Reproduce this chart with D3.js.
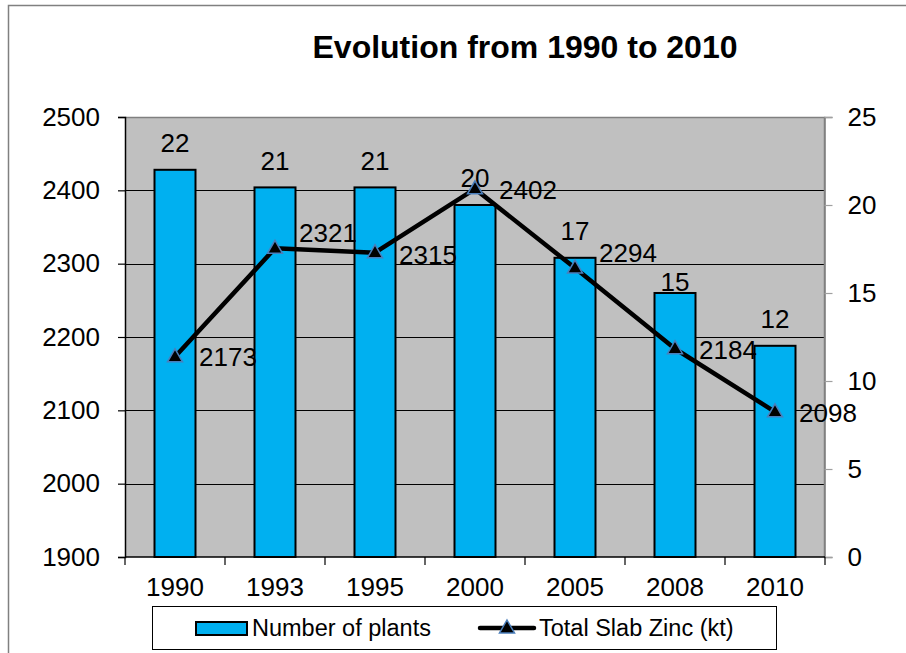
<!DOCTYPE html>
<html>
<head>
<meta charset="utf-8">
<script src="https://cdn.jsdelivr.net/npm/d3@7"></script>
<style>
  html, body { margin: 0; padding: 0; background: #fff; }
  svg { display: block; font-family: Arial, "Liberation Sans", sans-serif; }
</style>
</head>
<body>
<svg id="chart" width="906" height="653"></svg>
<script>
// Zinc industry, 1990-2010
const years = ["1990", "1993", "1995", "2000", "2005", "2008", "2010"];
const plants = [22, 21, 21, 20, 17, 15, 12];                    // Number of plants (right axis)
const slabZinc = [2173, 2321, 2315, 2402, 2294, 2184, 2098];    // Total Slab Zinc, kt (left axis)
const leftTicks = [1900, 2000, 2100, 2200, 2300, 2400, 2500];
const rightTicks = [0, 5, 10, 15, 20, 25];

// vertical nudges for value labels that would otherwise collide
const zincLabelNudge = [0, -15, 2, 1, -15, 1, 1];
const plantLabelNudge = [0, 0, 0, 0, 0, 16, 0];

const FONT = 'Arial, "Liberation Sans", sans-serif';
const svg = d3.select("#chart");
const plot = { left: 125, right: 825, top: 117, bottom: 557 };

// outer chart frame
svg.append("rect")
  .attr("x", 8.5).attr("y", 5.5).attr("width", 1000).attr("height", 1000)
  .attr("fill", "#fff").attr("stroke", "#808080").attr("stroke-width", 1.5);

// title
svg.append("text")
  .attr("x", 525).attr("y", 58)
  .attr("text-anchor", "middle")
  .attr("font-size", 32).attr("font-weight", "bold")
  .text("Evolution from 1990 to 2010");

const x = d3.scaleBand().domain(years).range([plot.left, plot.right]).padding(0);
const yL = d3.scaleLinear().domain([1900, 2500]).range([plot.bottom, plot.top]);
const yR = d3.scaleLinear().domain([0, 25]).range([plot.bottom, plot.top]);

// plot background
svg.append("rect")
  .attr("x", plot.left).attr("y", plot.top)
  .attr("width", plot.right - plot.left).attr("height", plot.bottom - plot.top)
  .attr("fill", "#c0c0c0");

// horizontal gridlines
svg.append("g").selectAll("line")
  .data(leftTicks.filter(t => t > 1900 && t < 2500))
  .join("line")
  .attr("x1", plot.left).attr("x2", plot.right)
  .attr("y1", d => Math.round(yL(d)) + 0.5).attr("y2", d => Math.round(yL(d)) + 0.5)
  .attr("stroke", "#000").attr("stroke-width", 1);

// plot border (top & right)
svg.append("path")
  .attr("d", `M${plot.left},${plot.top + 0.5}H${plot.right - 0.5}V${plot.bottom}`)
  .attr("fill", "none").attr("stroke", "#808080").attr("stroke-width", 1.5);

// bars: number of plants
const barW = x.bandwidth() * 0.41;
const barData = years.map((y, i) => ({ year: y, v: plants[i], i }));
svg.append("g").selectAll("rect")
  .data(barData)
  .join("rect")
  .attr("x", d => x(d.year) + x.bandwidth() / 2 - barW / 2)
  .attr("y", d => yR(d.v))
  .attr("width", barW)
  .attr("height", d => yR(0) - yR(d.v))
  .attr("fill", "#00b0f0").attr("stroke", "#000").attr("stroke-width", 2);

// left axis
const axL = svg.append("g").attr("transform", `translate(${plot.left},0)`)
  .call(d3.axisLeft(yL).tickValues(leftTicks).tickSize(7).tickPadding(18).tickFormat(d3.format("d")));
axL.select(".domain").attr("stroke", "#000").attr("stroke-width", 1.5);
axL.selectAll(".tick line").attr("stroke", "#000").attr("stroke-width", 1.2);
axL.selectAll(".tick text").attr("font-size", 26).attr("fill", "#000").attr("font-family", FONT);

// right axis
const axR = svg.append("g").attr("transform", `translate(${plot.right - 0.5},0)`)
  .call(d3.axisRight(yR).tickValues(rightTicks).tickSize(8).tickPadding(15));
axR.select(".domain").attr("stroke", "#808080").attr("stroke-width", 1.5);
axR.selectAll(".tick line").attr("stroke", "#a0a0a0").attr("stroke-width", 1.2);
axR.selectAll(".tick text").attr("font-size", 26).attr("fill", "#000").attr("font-family", FONT);

// bottom axis: ticks between categories
const axB = svg.append("g").attr("transform", `translate(0,${plot.bottom})`);
axB.append("line")
  .attr("x1", plot.left).attr("x2", plot.right).attr("y1", 0).attr("y2", 0)
  .attr("stroke", "#000").attr("stroke-width", 1.5);
const bounds = years.map(y => x(y)).concat([x(years[years.length - 1]) + x.bandwidth()]);
axB.selectAll("line.tk").data(bounds).join("line").attr("class", "tk")
  .attr("x1", d => d).attr("x2", d => d).attr("y1", 0).attr("y2", 8)
  .attr("stroke", "#000").attr("stroke-width", 1.2);
axB.selectAll("text").data(years).join("text")
  .attr("x", d => x(d) + x.bandwidth() / 2).attr("y", 30)
  .attr("dy", "0.35em").attr("text-anchor", "middle")
  .attr("font-size", 26).text(d => d);

// bar value labels
svg.append("g").selectAll("text")
  .data(barData)
  .join("text")
  .attr("x", d => x(d.year) + x.bandwidth() / 2)
  .attr("y", d => yR(d.v) - 27 + plantLabelNudge[d.i])
  .attr("dy", "0.35em").attr("text-anchor", "middle")
  .attr("font-size", 26).text(d => d.v);

// slab zinc line
const pts = years.map((y, i) => ({ year: y, v: slabZinc[i], i }));
const line = d3.line().x(d => x(d.year) + x.bandwidth() / 2).y(d => yL(d.v));
svg.append("path").datum(pts)
  .attr("d", line).attr("fill", "none")
  .attr("stroke", "#000").attr("stroke-width", 4.5).attr("stroke-linejoin", "round");

const tri = (cx, cy) => `M${cx},${cy - 8}L${cx + 7.5},${cy + 5}L${cx - 7.5},${cy + 5}Z`;
svg.append("g").selectAll("path")
  .data(pts).join("path")
  .attr("d", d => tri(x(d.year) + x.bandwidth() / 2, yL(d.v)))
  .attr("fill", "#000").attr("stroke", "#4a7ebb").attr("stroke-width", 1.5);

svg.append("g").selectAll("text")
  .data(pts).join("text")
  .attr("x", d => x(d.year) + x.bandwidth() / 2 + 24)
  .attr("y", d => yL(d.v) + zincLabelNudge[d.i])
  .attr("dy", "0.35em").attr("font-size", 26).text(d => d.v);

// legend
const lg = svg.append("g");
lg.append("rect")
  .attr("x", 152.5).attr("y", 606.5).attr("width", 624).attr("height", 43)
  .attr("fill", "#fff").attr("stroke", "#000").attr("stroke-width", 1);
lg.append("rect")
  .attr("x", 196).attr("y", 622).attr("width", 51).attr("height", 13)
  .attr("fill", "#00b0f0").attr("stroke", "#000").attr("stroke-width", 2);
lg.append("text").attr("x", 252).attr("y", 628).attr("dy", "0.35em")
  .attr("font-size", 23.5).text("Number of plants");
lg.append("line")
  .attr("x1", 480).attr("x2", 534).attr("y1", 628).attr("y2", 628)
  .attr("stroke", "#000").attr("stroke-width", 4.5).attr("stroke-linecap", "round");
lg.append("path").attr("d", tri(507, 628))
  .attr("fill", "#000").attr("stroke", "#4a7ebb").attr("stroke-width", 1.5);
lg.append("text").attr("x", 539).attr("y", 628).attr("dy", "0.35em")
  .attr("font-size", 23.5).text("Total Slab Zinc (kt)");
</script>
</body>
</html>
